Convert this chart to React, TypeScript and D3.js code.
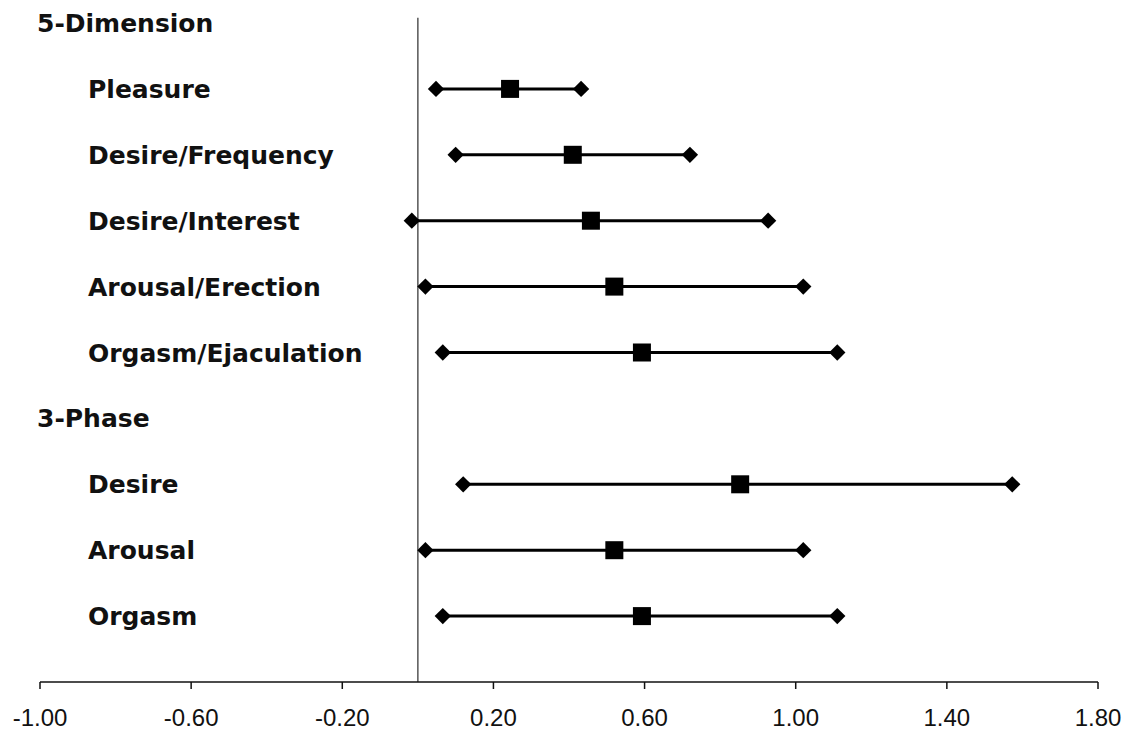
import React from "react";
import * as d3 from "d3";

const width = 1128;
const height = 732;

// rows top to bottom; headers have no values
const rowLabels = [
  "5-Dimension",
  "Pleasure",
  "Desire/Frequency",
  "Desire/Interest",
  "Arousal/Erection",
  "Orgasm/Ejaculation",
  "3-Phase",
  "Desire",
  "Arousal",
  "Orgasm",
];
const headerRows = ["5-Dimension", "3-Phase"];

// values for the item rows (headers skipped), same order
const itemLabels = [
  "Pleasure",
  "Desire/Frequency",
  "Desire/Interest",
  "Arousal/Erection",
  "Orgasm/Ejaculation",
  "Desire",
  "Arousal",
  "Orgasm",
];
const itemGroups = ["5-Dimension", "5-Dimension", "5-Dimension", "5-Dimension", "5-Dimension", "3-Phase", "3-Phase", "3-Phase"];
const lowValues = [0.048, 0.1, -0.016, 0.02, 0.066, 0.12, 0.02, 0.066];
const midValues = [0.244, 0.41, 0.458, 0.52, 0.593, 0.853, 0.52, 0.593];
const highValues = [0.432, 0.72, 0.927, 1.02, 1.11, 1.573, 1.02, 1.11];

const tickValues = [-1.0, -0.6, -0.2, 0.2, 0.6, 1.0, 1.4, 1.8];

const x = d3.scaleLinear().domain([-1, 1.8]).range([40, 1098]);
const y = d3.scaleLinear().domain([0, 10]).range([23, 682]);

const labelFont = "'DejaVu Sans', sans-serif";
const tickFont = "'Liberation Sans', Arial, sans-serif";

const diamond = d3.symbol().type(d3.symbolDiamond2).size(170);
// excel style: plain hyphen for negatives
const fmt = (v: number) => (v < 0 ? "-" : "") + d3.format(".2f")(Math.abs(v));

export default function App() {
  // position in rowLabels, but items under the second header must skip the duplicate "Desire"/"Arousal" names
  const rowOf = (i: number) => {
    const start = rowLabels.indexOf(itemGroups[i]);
    return start + 1 + itemGroups.slice(0, i).filter((g) => g === itemGroups[i]).length;
  };

  return (
    <svg
      width={width}
      height={height}
      style={{ position: "absolute", left: 0, top: 0, background: "#fff" }}
    >
      {/* row labels */}
      {rowLabels.map((label, i) => {
        const isHeader = headerRows.includes(label);
        return (
          <text
            key={label + i}
            x={isHeader ? 37 : 88}
            y={y(i)}
            dy="0.36em"
            fontFamily={labelFont}
            fontWeight="bold"
            fontSize={25}
            fill="#111"
          >
            {label}
          </text>
        );
      })}

      {/* zero line */}
      <line
        x1={x(0)}
        x2={x(0)}
        y1={y(-0.08)}
        y2={y(10)}
        stroke="#555"
        strokeWidth={1.5}
      />

      {/* x axis */}
      <line x1={x(-1)} x2={x(1.8)} y1={y(10)} y2={y(10)} stroke="#111" strokeWidth={1.5} />
      {tickValues.map((t) => (
        <g key={t} transform={`translate(${x(t)},${y(10)})`}>
          <line y1={0} y2={7} stroke="#111" strokeWidth={1.5} />
          <text
            y={44}
            textAnchor="middle"
            fontFamily={tickFont}
            fontSize={24}
            fill="#111"
          >
            {fmt(t)}
          </text>
        </g>
      ))}

      {/* ranges: low/high diamonds, mean square */}
      {itemLabels.map((label, i) => {
        const cy = y(rowOf(i));
        return (
          <g key={label + i}>
            <line
              x1={x(lowValues[i])}
              x2={x(highValues[i])}
              y1={cy}
              y2={cy}
              stroke="#000"
              strokeWidth={3}
            />
            <path d={diamond()!} transform={`translate(${x(lowValues[i])},${cy})`} fill="#000" />
            <path d={diamond()!} transform={`translate(${x(highValues[i])},${cy})`} fill="#000" />
            <rect
              x={x(midValues[i]) - 9}
              y={cy - 9}
              width={18}
              height={18}
              fill="#000"
            />
          </g>
        );
      })}
    </svg>
  );
}
